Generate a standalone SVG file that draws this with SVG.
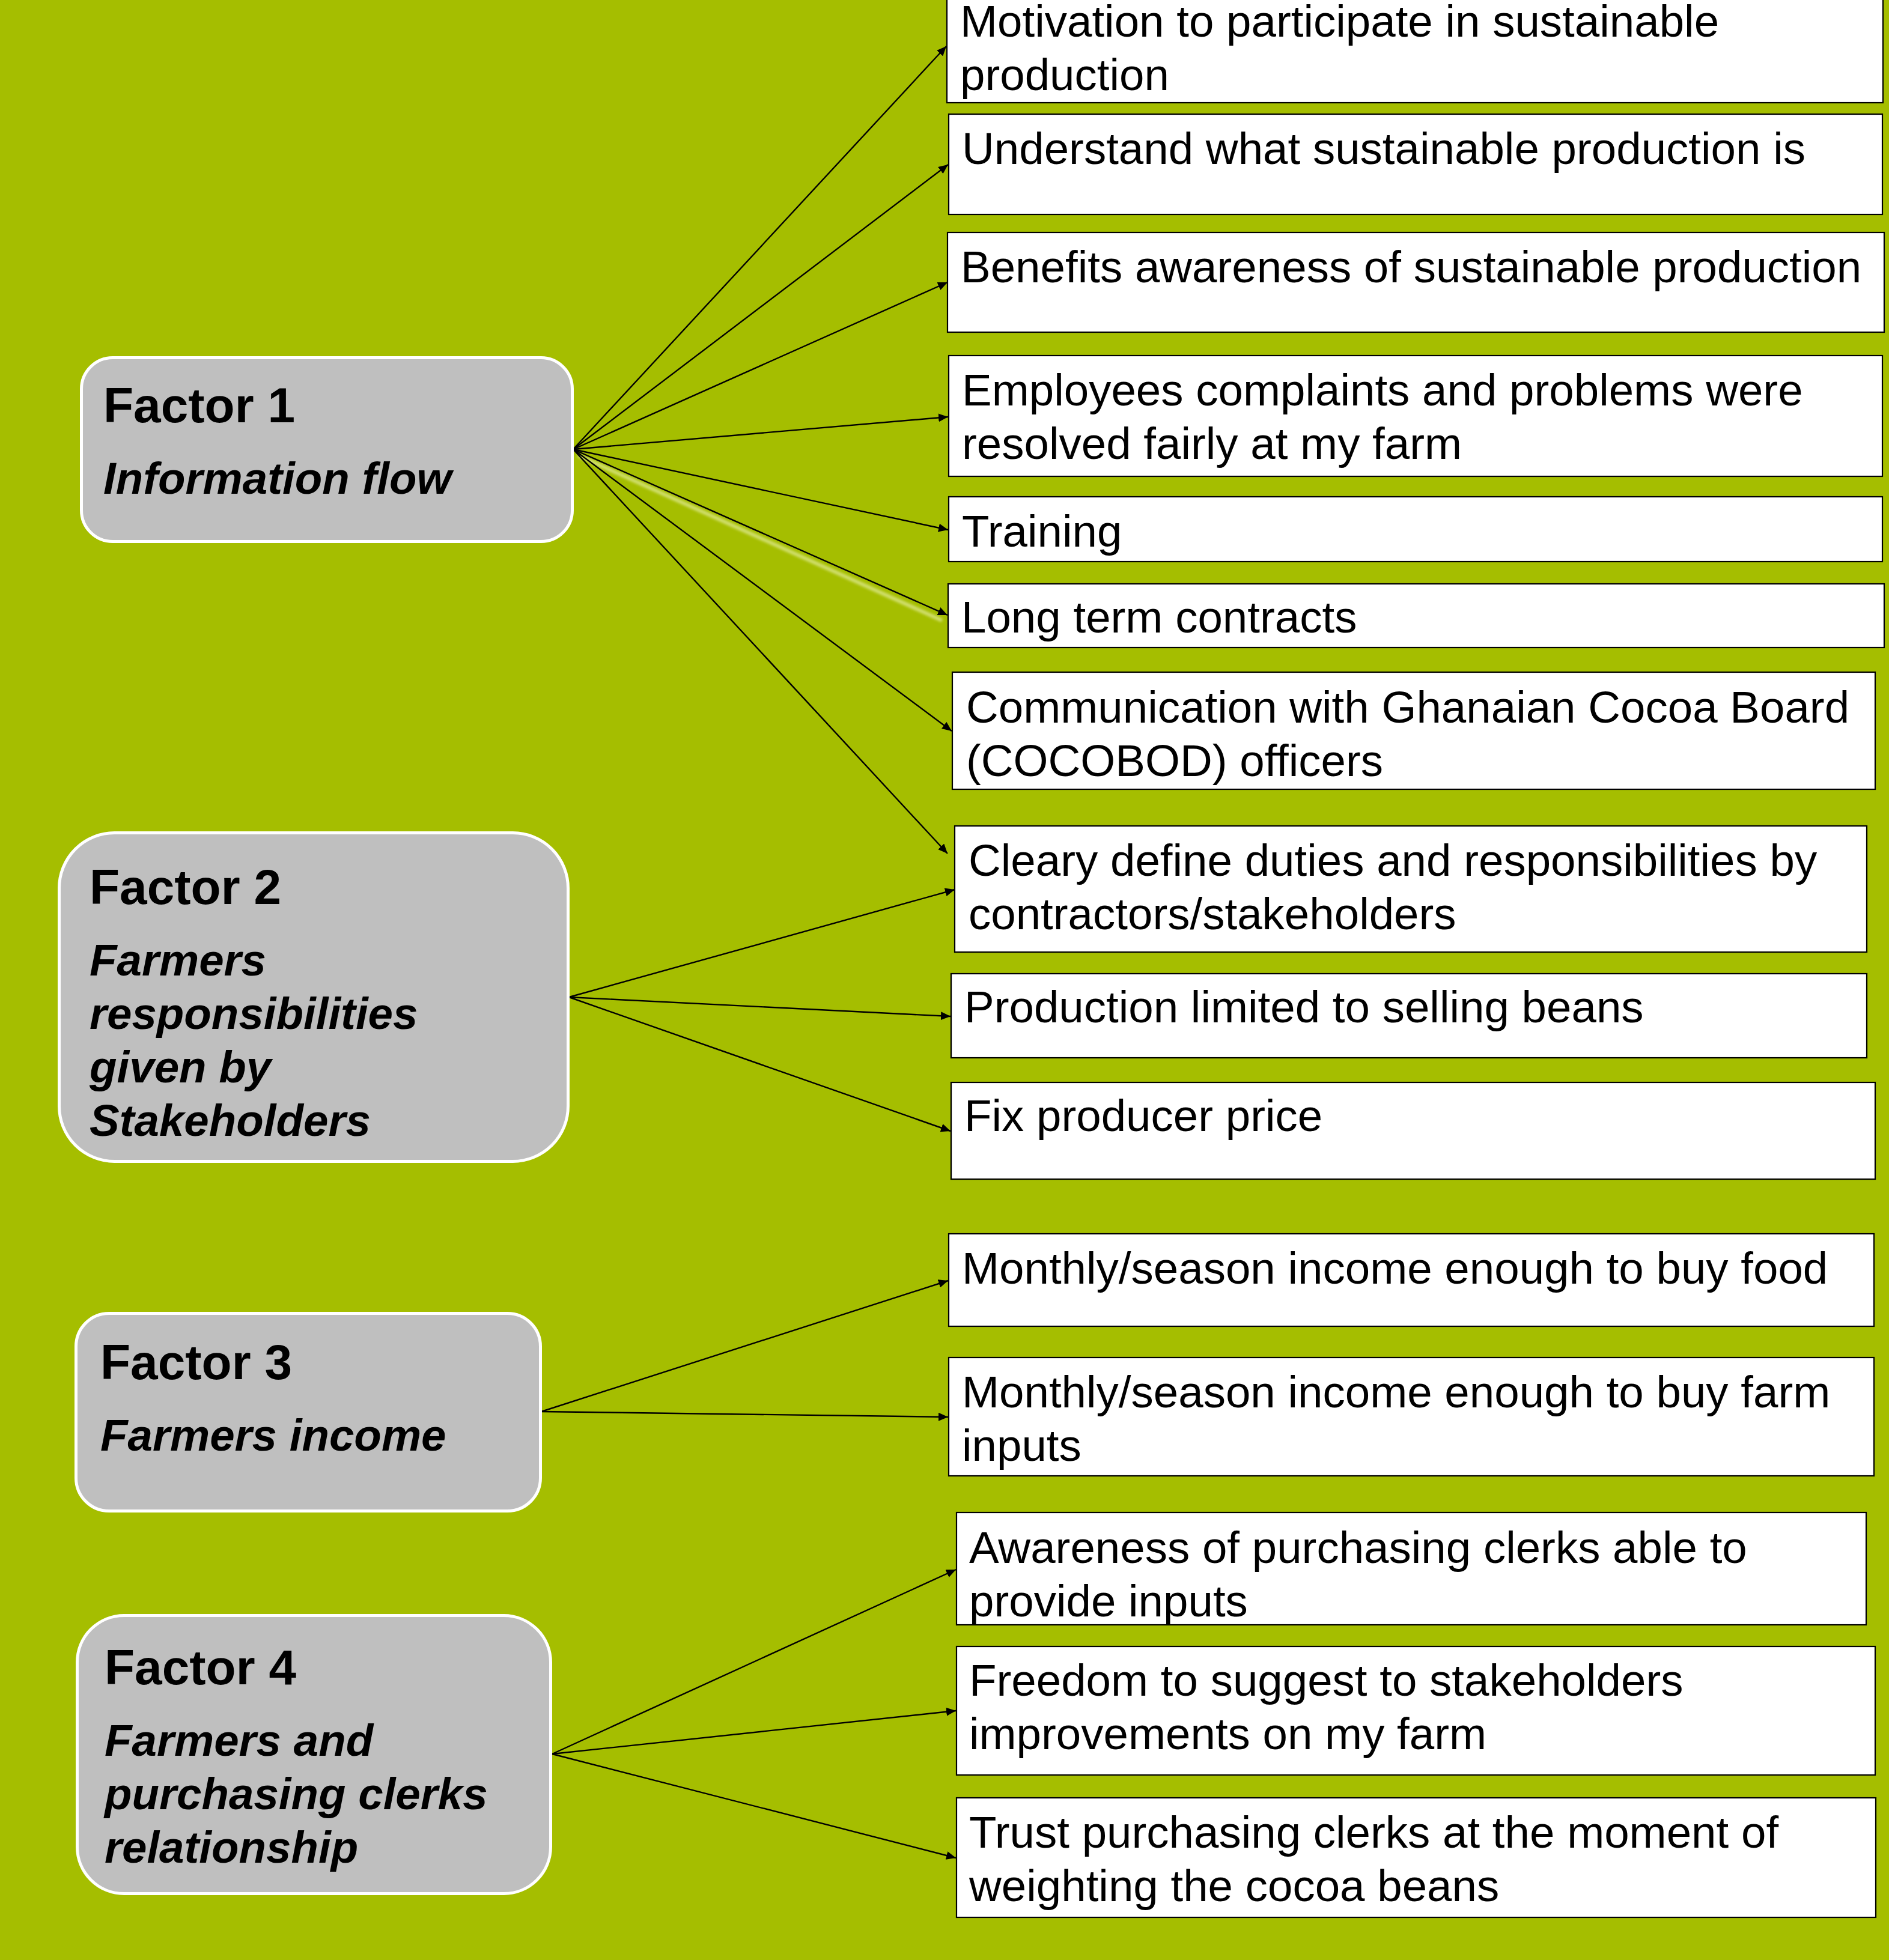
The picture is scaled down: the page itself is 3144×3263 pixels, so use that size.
<svg xmlns="http://www.w3.org/2000/svg" width="3144" height="3263" viewBox="0 0 3144 3263">
<style>
.factor{fill:#BFBFBF;stroke:#FFFFFF;stroke-width:5}
.item{fill:#FFFFFF;stroke:#000000;stroke-width:2.2}
.ft{font-family:"Liberation Sans",Arial,sans-serif;font-weight:bold;font-size:82px;fill:#000}
.fi{font-family:"Liberation Sans",Arial,sans-serif;font-weight:bold;font-style:italic;font-size:74.5px;fill:#000}
.it{font-family:"Liberation Sans",Arial,sans-serif;font-size:74.5px;fill:#000}
.conn line{stroke:#000;stroke-width:2.4;marker-end:url(#arr)}
</style>
<defs>
<marker id="arr" viewBox="0 0 16 14" markerWidth="16" markerHeight="14" markerUnits="userSpaceOnUse" refX="16" refY="7" orient="auto">
<path d="M0,0 L16,7 L0,14 z" fill="#000"/>
</marker>
<filter id="blur" x="-10%" y="-10%" width="120%" height="120%"><feGaussianBlur stdDeviation="2"/></filter>
</defs>
<rect x="0" y="0" width="3144" height="3263" fill="#A5BE00"/>

<g id="connectors" class="conn">
<path d="M962,758 L1568,1033" stroke="#E2EC99" stroke-width="6" opacity="0.75" fill="none" filter="url(#blur)"/>
<line x1="954" y1="748" x2="1575" y2="77"/>
<line x1="954" y1="748" x2="1578" y2="274"/>
<line x1="954" y1="748" x2="1577" y2="470"/>
<line x1="954" y1="748" x2="1578" y2="694"/>
<line x1="954" y1="748" x2="1578" y2="882"/>
<line x1="954" y1="748" x2="1577" y2="1024"/>
<line x1="954" y1="748" x2="1584" y2="1217"/>
<line x1="954" y1="748" x2="1577" y2="1421"/>
<line x1="947" y1="1660" x2="1589" y2="1481"/>
<line x1="947" y1="1660" x2="1582" y2="1692"/>
<line x1="947" y1="1660" x2="1582" y2="1883"/>
<line x1="901" y1="2350" x2="1578" y2="2132"/>
<line x1="901" y1="2350" x2="1578" y2="2359"/>
<line x1="919" y1="2920" x2="1591" y2="2613"/>
<line x1="919" y1="2920" x2="1591" y2="2848"/>
<line x1="919" y1="2920" x2="1591" y2="3093"/>
</g>

<g id="factor1">
<rect class="factor" x="135.5" y="595.5" width="817" height="306" rx="52" ry="52"/>
<text class="ft" x="172" y="703">Factor 1</text>
<text class="fi" x="172" y="822">Information flow</text>
</g>
<g id="factor2">
<rect class="factor" x="98.5" y="1386.5" width="847" height="547" rx="92" ry="92"/>
<text class="ft" x="149" y="1505">Factor 2</text>
<text class="fi" x="149" y="1624">Farmers</text>
<text class="fi" x="149" y="1713">responsibilities</text>
<text class="fi" x="149" y="1802">given by</text>
<text class="fi" x="149" y="1891">Stakeholders</text>
</g>
<g id="factor3">
<rect class="factor" x="126.5" y="2186.5" width="773" height="329" rx="55" ry="55"/>
<text class="ft" x="167" y="2296">Factor 3</text>
<text class="fi" x="167" y="2415">Farmers income</text>
</g>
<g id="factor4">
<rect class="factor" x="128.5" y="2689.5" width="788" height="463" rx="78" ry="78"/>
<text class="ft" x="174" y="2804">Factor 4</text>
<text class="fi" x="174" y="2923">Farmers and</text>
<text class="fi" x="174" y="3012">purchasing clerks</text>
<text class="fi" x="174" y="3101">relationship</text>
</g>

<g id="item1">
<rect class="item" x="1576" y="-20" width="1558" height="191"/>
<text class="it" x="1598" y="61">Motivation to participate in sustainable</text>
<text class="it" x="1598" y="150">production</text>
</g>
<g id="item2">
<rect class="item" x="1579" y="190" width="1554" height="167"/>
<text class="it" x="1601" y="273">Understand what sustainable production is</text>
</g>
<g id="item3">
<rect class="item" x="1577" y="387" width="1559" height="166"/>
<text class="it" x="1599" y="470">Benefits awareness of sustainable production</text>
</g>
<g id="item4">
<rect class="item" x="1579" y="592" width="1554" height="201"/>
<text class="it" x="1601" y="675">Employees complaints and problems were</text>
<text class="it" x="1601" y="764">resolved fairly at my farm</text>
</g>
<g id="item5">
<rect class="item" x="1579" y="827" width="1554" height="108"/>
<text class="it" x="1601" y="910">Training</text>
</g>
<g id="item6">
<rect class="item" x="1578" y="972" width="1558" height="106"/>
<text class="it" x="1600" y="1053">Long term contracts</text>
</g>
<g id="item7">
<rect class="item" x="1585" y="1119" width="1536" height="195"/>
<text class="it" x="1608" y="1203">Communication with Ghanaian Cocoa Board</text>
<text class="it" x="1608" y="1292">(COCOBOD) officers</text>
</g>
<g id="item8">
<rect class="item" x="1589" y="1375" width="1518" height="210"/>
<text class="it" x="1612" y="1458">Cleary define duties and responsibilities by</text>
<text class="it" x="1612" y="1547">contractors/stakeholders</text>
</g>
<g id="item9">
<rect class="item" x="1583" y="1621" width="1524" height="140"/>
<text class="it" x="1605" y="1702">Production limited to selling beans</text>
</g>
<g id="item10">
<rect class="item" x="1583" y="1802" width="1538" height="161"/>
<text class="it" x="1605" y="1883">Fix producer price</text>
</g>
<g id="item11">
<rect class="item" x="1579" y="2054" width="1540" height="154"/>
<text class="it" x="1601" y="2137">Monthly/season income enough to buy food</text>
</g>
<g id="item12">
<rect class="item" x="1579" y="2260" width="1540" height="197"/>
<text class="it" x="1601" y="2343">Monthly/season income enough to buy farm</text>
<text class="it" x="1601" y="2432">inputs</text>
</g>
<g id="item13">
<rect class="item" x="1592" y="2518" width="1514" height="187"/>
<text class="it" x="1613" y="2602">Awareness of purchasing clerks able to</text>
<text class="it" x="1613" y="2691">provide inputs</text>
</g>
<g id="item14">
<rect class="item" x="1592" y="2741" width="1529" height="214"/>
<text class="it" x="1613" y="2823">Freedom to suggest to stakeholders</text>
<text class="it" x="1613" y="2912">improvements on my farm</text>
</g>
<g id="item15">
<rect class="item" x="1592" y="2993" width="1530" height="199"/>
<text class="it" x="1613" y="3076">Trust purchasing clerks at the moment of</text>
<text class="it" x="1613" y="3165">weighting the cocoa beans</text>
</g>
</svg>
